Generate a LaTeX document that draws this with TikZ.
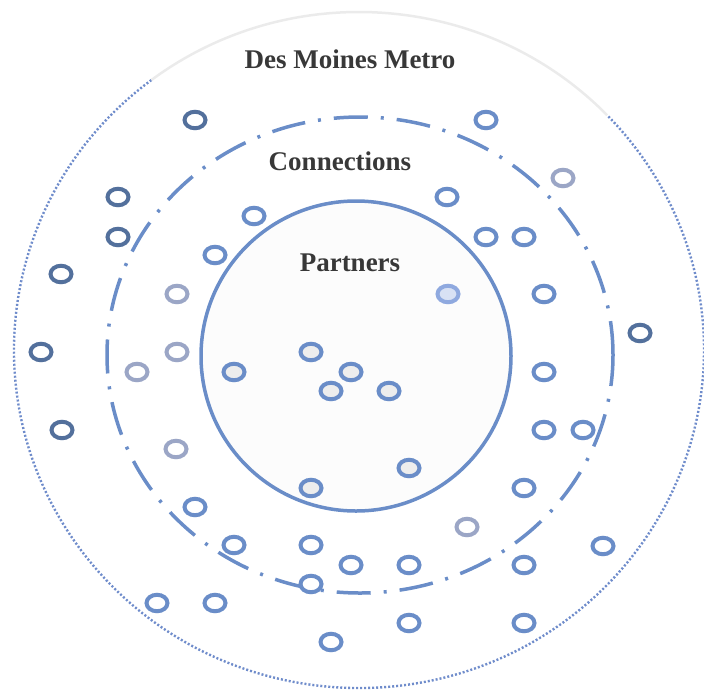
\documentclass[tikz,border=0pt]{standalone}
\usepackage{fontspec}
\setmainfont{Liberation Serif}
\usetikzlibrary{shapes.geometric, positioning}
\definecolor{ringblue}{HTML}{6A8DC8}
\definecolor{ringdark}{HTML}{53709C}
\definecolor{ringgray}{HTML}{9BA6C6}
\definecolor{ringlight}{HTML}{8FA9DF}
\definecolor{dotblue}{HTML}{6F8CCB}
\definecolor{labelgray}{HTML}{383838}
\tikzset{
	line width = 1pt,
	ring/.style={
		draw,
		ellipse,
		line width=4pt,
		minimum width=21pt,
		minimum height=16.5pt,
		inner sep=0pt,
		fill=white
	},
	darkring/.style={ring, draw=ringdark},
	bluering/.style={ring, draw=ringblue},
	grayring/.style={ring, draw=ringgray},
	lightring/.style={ring, draw=ringlight, fill=ringlight!35},
	partnerring/.style={ring, draw=ringblue, fill=black!7},
	zone/.style={
		draw=ringblue,
		ellipse,
		inner sep=0pt,
		line width=3.5pt
	},
	zonelabel/.style={
		font=\fontsize{27}{30}\selectfont\bfseries,
		text=labelgray,
		anchor=base
	}
}

\begin{document}
\begin{tikzpicture}[x=1pt, y=-1pt]
		\useasboundingbox (0,0) rectangle (704,689);

		% outer area: dotted, fading out at the top
		\draw[dotblue, line width=2.4pt, dash pattern=on 2pt off 2pt] (359,350) ++(127:345pt and 338pt) arc[start angle=127, end angle=404, x radius=345pt, y radius=338pt];
		\draw[black!8, line width=2.5pt] (359,350) ++(44:345pt and 338pt) arc[start angle=44, end angle=127, x radius=345pt, y radius=338pt];

		\node[zone, dash pattern=on 34pt off 13pt on 3pt off 13pt, minimum width=506pt, minimum height=476pt] (connections) at (360,355) {};
		\node[zone, fill=black!1, minimum width=310pt, minimum height=310pt] (partners) at (356,356) {};

		\node[zonelabel] (metrolabel) at (350,68) {Des Moines Metro};
		\node[zonelabel] (connlabel) at (340,170) {Connections};
		\node[zonelabel] (partlabel) at (350,271) {Partners};

		% metro rings
		\node[darkring] (m1) at (195,120) {};
		\node[bluering] (m2) at (486,120) {};
		\node[grayring] (m3) at (563,178) {};
		\node[darkring] (m4) at (118,197) {};
		\node[darkring] (m5) at (118,237) {};
		\node[darkring] (m6) at (61,274) {};
		\node[darkring] (m7) at (640,333) {};
		\node[darkring] (m8) at (41,352) {};
		\node[darkring] (m9) at (62,430) {};
		\node[bluering] (m10) at (603,546) {};
		\node[bluering] (m11) at (524,565) {};
		\node[bluering] (m12) at (157,603) {};
		\node[bluering] (m13) at (215,603) {};
		\node[bluering] (m14) at (409,623) {};
		\node[bluering] (m15) at (524,623) {};
		\node[bluering] (m16) at (331,642) {};

		% connection rings
		\node[bluering] (c1) at (447,197) {};
		\node[bluering] (c2) at (254,216) {};
		\node[bluering] (c3) at (486,237) {};
		\node[bluering] (c4) at (524,237) {};
		\node[bluering] (c5) at (215,255) {};
		\node[grayring] (c6) at (177,294) {};
		\node[bluering] (c7) at (544,294) {};
		\node[grayring] (c8) at (177,352) {};
		\node[grayring] (c9) at (137,372) {};
		\node[bluering] (c10) at (544,372) {};
		\node[bluering] (c11) at (544,430) {};
		\node[bluering] (c12) at (583,430) {};
		\node[grayring] (c13) at (176,449) {};
		\node[bluering] (c14) at (524,488) {};
		\node[bluering] (c15) at (195,507) {};
		\node[grayring] (c16) at (467,527) {};
		\node[bluering] (c17) at (234,545) {};
		\node[bluering] (c18) at (311,545) {};
		\node[bluering] (c19) at (351,565) {};
		\node[bluering] (c20) at (409,565) {};
		\node[bluering] (c21) at (311,584) {};

		% partner rings
		\node[lightring] (p1) at (448,294) {};
		\node[partnerring] (p2) at (311,352) {};
		\node[partnerring] (p3) at (234,372) {};
		\node[partnerring] (p4) at (351,372) {};
		\node[partnerring] (p5) at (331,391) {};
		\node[partnerring] (p6) at (389,391) {};
		\node[partnerring] (p7) at (409,468) {};
		\node[partnerring] (p8) at (311,488) {};
	\end{tikzpicture}
\end{document}
